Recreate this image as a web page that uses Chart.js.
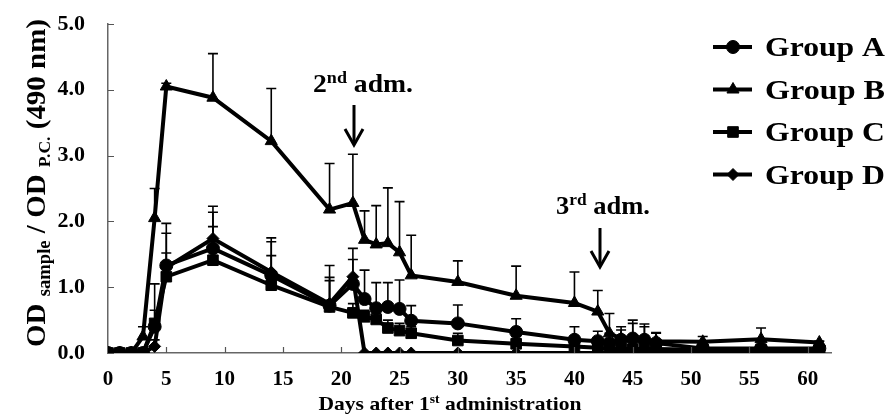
<!DOCTYPE html>
<html>
<head>
<meta charset="utf-8">
<script src="https://cdn.jsdelivr.net/npm/chart.js@4/dist/chart.umd.min.js"></script>
<style>
  body { margin: 0; background: #fff; }
  #chart { display: block; }
</style>
</head>
<body>
<canvas id="chart" width="888" height="414"></canvas>
<script>
// days after 1st administration
const days = [0, 1, 2, 3, 4, 5, 9, 14, 19, 21, 22, 23, 24, 25, 26, 30, 35, 40, 42, 43, 44, 45, 46, 47, 51, 56, 61];

// mean OD ratio per group
const groupA = [0, 0, 0, 0, 0.40, 1.33, 1.59, 1.18, 0.72, 1.05, 0.82, 0.68, 0.70, 0.67, 0.49, 0.45, 0.32, 0.20, 0.18, 0.15, 0.20, 0.22, 0.20, 0.15, 0.07, 0.07, 0.07];
const groupB = [0, 0, 0, 0.25, 2.05, 4.05, 3.88, 3.22, 2.18, 2.28, 1.72, 1.65, 1.67, 1.53, 1.18, 1.08, 0.87, 0.76, 0.63, 0.30, 0.22, 0.22, 0.20, 0.18, 0.17, 0.21, 0.16];
const groupC = [0, 0, 0, 0, 0.45, 1.16, 1.41, 1.03, 0.70, 0.61, 0.55, 0.51, 0.38, 0.34, 0.30, 0.19, 0.14, 0.10, 0.08, 0.06, 0.06, 0.06, 0.06, 0.06, 0.05, 0.05, 0.05];
const groupD = [0, 0, 0, 0, 0.10, 1.30, 1.74, 1.23, 0.75, 1.16, 0, 0, 0, 0, 0, 0, 0, 0, 0, 0, 0, 0, 0, 0, 0, 0, 0];

// top of the error bars (mean + SD)
const errTopA = [0, 0, 0, 0, 1.05, 1.97, 2.14, 1.69, 1.15, 1.59, 1.26, 1.07, 1.07, 1.11, 0.72, 0.73, 0.52, 0.40, 0.33, 0.30, 0.35, 0.45, 0.40, 0.30, 0.10, 0.10, 0.10];
const errTopB = [0, 0, 0, 0.40, 2.50, 4.10, 4.55, 4.02, 2.88, 3.02, 2.16, 2.24, 2.51, 2.30, 1.79, 1.40, 1.32, 1.23, 0.95, 0.60, 0.40, 0.50, 0.44, 0.31, 0.25, 0.38, 0.18];
const errTopC = [0, 0, 0, 0, 0.65, 1.52, 1.92, 1.48, 1.10, 0.75, 0.65, 0.60, 0.50, 0.45, 0.40, 0.30, 0.25, 0.15, 0.12, 0.10, 0.10, 0.10, 0.10, 0.10, 0.08, 0.08, 0.08];
const errTopD = [0, 0, 0, 0, 0.20, 1.82, 2.23, 1.75, 1.33, 1.42, 0, 0, 0, 0, 0, 0, 0, 0, 0, 0, 0, 0, 0, 0, 0, 0, 0];

const groupLabels = ['Group A', 'Group B', 'Group C', 'Group D'];
const yTicks = [0, 1, 2, 3, 4, 5];

const FONT = '"Liberation Serif", "Times New Roman", serif';

function toPoints(values) {
    return days.map((d, i) => ({ x: d, y: values[i] }));
}

function makeSet(label, values, errTop, style, radius) {
    return {
        label: label,
        data: toPoints(values),
        errTop: errTop,
        borderColor: '#000',
        backgroundColor: '#000',
        borderWidth: 4,
        pointStyle: style,
        pointRadius: radius,
        pointBorderWidth: 1,
        pointBackgroundColor: '#000',
        pointBorderColor: '#000',
        tension: 0,
        fill: false
    };
}

// draw text made of pieces [text, size, dy], centred on x, squeezed/stretched to width w
function drawRich(ctx, parts, x, y, w, align) {
    ctx.save();
    let total = 0;
    parts.forEach(p => {
        ctx.font = 'bold ' + p[1] + 'px ' + FONT;
        total += ctx.measureText(p[0]).width;
    });
    const sx = w ? w / total : 1;
    ctx.translate(x, y);
    ctx.scale(sx, 1);
    let cx = align === 'left' ? 0 : -total / 2;
    ctx.fillStyle = '#000';
    ctx.textBaseline = 'alphabetic';
    ctx.textAlign = 'left';
    parts.forEach(p => {
        ctx.font = 'bold ' + p[1] + 'px ' + FONT;
        ctx.fillText(p[0], cx, p[2]);
        cx += ctx.measureText(p[0]).width;
    });
    ctx.restore();
}

function drawArrow(ctx, x, y1, y2) {
    ctx.save();
    ctx.strokeStyle = '#000';
    ctx.lineWidth = 3;
    ctx.beginPath();
    ctx.moveTo(x, y1);
    ctx.lineTo(x, y2 - 2);
    ctx.stroke();
    ctx.beginPath();
    ctx.moveTo(x - 9, y2 - 16);
    ctx.lineTo(x, y2);
    ctx.lineTo(x + 9, y2 - 16);
    ctx.stroke();
    ctx.restore();
}

const errorBars = {
    id: 'errorBars',
    beforeDatasetsDraw(chart) {
        const ctx = chart.ctx;
        const xs = chart.scales.x, ys = chart.scales.y;
        ctx.save();
        ctx.strokeStyle = '#000';
        ctx.lineWidth = 1.6;
        chart.data.datasets.forEach(ds => {
            ds.data.forEach((p, i) => {
                const top = ds.errTop[i];
                if (top <= p.y) return;
                const px = xs.getPixelForValue(p.x);
                const y0 = ys.getPixelForValue(p.y);
                const y1 = ys.getPixelForValue(top);
                ctx.beginPath();
                ctx.moveTo(px, y0);
                ctx.lineTo(px, y1);
                ctx.moveTo(px - 5, y1);
                ctx.lineTo(px + 5, y1);
                ctx.stroke();
            });
        });
        ctx.restore();
    }
};

const decorations = {
    id: 'decorations',
    afterDraw(chart) {
        const ctx = chart.ctx;
        const xs = chart.scales.x, ys = chart.scales.y;
        const area = chart.chartArea;

        // inside tick marks
        ctx.save();
        ctx.strokeStyle = '#555';
        ctx.lineWidth = 1.2;
        ctx.beginPath();
        yTicks.forEach(v => {
            const py = Math.round(ys.getPixelForValue(v)) + 0.5;
            ctx.moveTo(area.left, py);
            ctx.lineTo(area.left + 6, py);
        });
        for (let d = 5; d <= 60; d += 5) {
            const px = Math.round(xs.getPixelForValue(d)) + 0.5;
            ctx.moveTo(px, area.bottom);
            ctx.lineTo(px, area.bottom - 6);
        }
        ctx.stroke();
        ctx.restore();

        // legend
        chart.data.datasets.forEach((ds, i) => {
            const cy = 47 + i * 42.5;
            ctx.save();
            ctx.strokeStyle = '#000';
            ctx.fillStyle = '#000';
            ctx.lineWidth = 4;
            ctx.beginPath();
            ctx.moveTo(713, cy);
            ctx.lineTo(752, cy);
            ctx.stroke();
            ctx.lineWidth = 1;
            Chart.helpers.drawPoint(ctx, { pointStyle: ds.pointStyle, radius: ds.pointRadius, rotation: 0, borderWidth: 1 }, 733, cy);
            ctx.restore();
            drawRich(ctx, [[ds.label, 27, 0]], 765, cy + 9, 120, 'left');
        });

        // administration marks
        drawRich(ctx, [['2', 26, 0], ['nd', 17, -9], [' adm.', 26, 0]], 363, 92, 100);
        drawArrow(ctx, 354, 105, 145);
        drawRich(ctx, [['3', 26, 0], ['rd', 17, -9], [' adm.', 26, 0]], 603, 214, 94);
        drawArrow(ctx, 600, 228, 267);

        // axis titles
        drawRich(ctx, [['Days after 1', 19, 0], ['st', 12, -7], [' administration', 19, 0]], 450, 410, 263);
        ctx.save();
        ctx.translate(45, 183);
        ctx.rotate(-Math.PI / 2);
        drawRich(ctx, [['OD ', 28, 0], ['sample', 18, 5], [' / OD ', 28, 0], ['P.C.', 17, 5], [' (490 nm)', 28, 0]], 0, 0, 328);
        ctx.restore();
    }
};

const ctx = document.getElementById('chart').getContext('2d');
const chart = new Chart(ctx, {
    type: 'line',
    data: {
        datasets: [
            makeSet(groupLabels[0], groupA, errTopA, 'circle', 6.5),
            makeSet(groupLabels[1], groupB, errTopB, 'triangle', 7),
            makeSet(groupLabels[2], groupC, errTopC, 'rect', 7.5),
            makeSet(groupLabels[3], groupD, errTopD, 'rectRot', 6)
        ]
    },
    options: {
        responsive: false,
        animation: false,
        layout: { padding: { top: 24, right: 57, left: 0, bottom: 0 } },
        scales: {
            x: {
                type: 'linear',
                min: 0,
                max: 62,
                grid: { display: false, drawTicks: false },
                border: { display: true, color: '#666', width: 1.5 },
                ticks: {
                    stepSize: 5,
                    includeBounds: false,
                    color: '#000',
                    padding: 14,
                    maxRotation: 0,
                    font: { family: FONT, size: 21, weight: 'bold' }
                },
                afterFit: s => { s.height = 61; }
            },
            y: {
                min: 0,
                max: 5,
                grid: { display: false, drawTicks: false },
                border: { display: true, color: '#666', width: 1.5 },
                ticks: {
                    stepSize: 1,
                    color: '#000',
                    padding: 23,
                    callback: v => v.toFixed(1),
                    font: { family: FONT, size: 22, weight: 'bold' }
                },
                // fixed axis width, no extra room for the half labels
                afterFit: s => { s.width = 108; s.paddingTop = 0; s.paddingBottom = 0; }
            }
        },
        plugins: {
            legend: { display: false },
            tooltip: { enabled: false }
        }
    },
    plugins: [errorBars, decorations]
});
</script>
</body>
</html>
